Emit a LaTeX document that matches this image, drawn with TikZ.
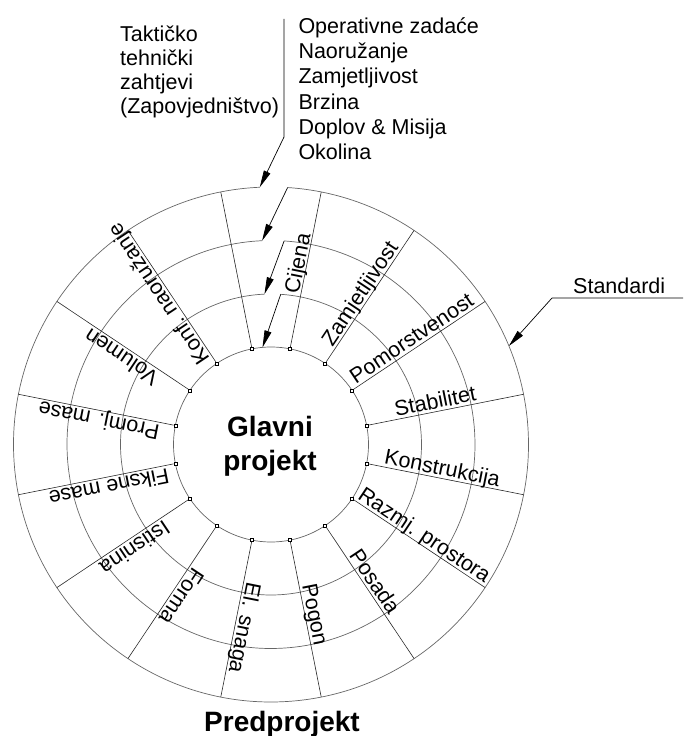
\documentclass[tikz,border=0pt]{standalone}
\usepackage{fontspec}
\setmainfont{Liberation Sans}
\usetikzlibrary{arrows.meta,calc}

\begin{document}
\begin{tikzpicture}
[x=1pt,y=1pt,>={Triangle[length=17pt,width=7pt]},
ring/.style={draw=black!60,line width=0.7pt},
spoke/.style={draw=black!85,line width=0.6pt},
pin/.style={rectangle,draw,fill=white,inner sep=0pt,minimum size=3pt,line width=0.5pt},
lbl/.style={font=\fontsize{21.5}{24}\selectfont,anchor=base west,inner sep=0pt},
txt/.style={font=\fontsize{21.5}{24}\selectfont,align=left,inner sep=0pt},
title/.style={font=\fontsize{28}{34}\selectfont\bfseries},
flow/.style={draw,line width=0.7pt,->}]
\useasboundingbox (-271,-291.5) rectangle (412,444.5);

% spiral rings, open at the top
\coordinate (o1) at (92.5:257.5);
\coordinate (o2) at (86.3:257.5);
\coordinate (m1) at (92.5:204);
\coordinate (m2) at (86.3:204);
\coordinate (n1) at (92.5:150.5);
\coordinate (n2) at (86.3:150.5);
\coordinate (c1) at (95:97.5);
\draw[ring] (o1) arc[start angle=92.5,end angle=446.3,radius=257.5];
\draw[ring] (m1) arc[start angle=92.5,end angle=446.3,radius=204];
\draw[ring] (n1) arc[start angle=92.5,end angle=446.3,radius=150.5];
\draw[ring] (0,0) circle[radius=97.5];

\foreach \a [count=\i] in {11.25,33.75,...,348.75}{
  \node[pin] (pin\i) at (\a:97.5) {};
  \draw[spoke] (pin\i) -- (\a:257.5);
}

% labels along the spokes
\node[lbl,rotate=78.75] (cijena) at ($(78.75:152)+(168.75:2)$) {Cijena};
\node[lbl,rotate=56.25] (zamjet) at ($(56.25:115)+(146.25:3)$) {Zamjetljivost};
\node[lbl,rotate=33.75] (pomor) at ($(33.75:104)+(123.75:3)$) {Pomorstvenost};
\node[lbl,rotate=11.25] (stab) at ($(11.25:128)+(101.25:3)$) {Stabilitet};
\node[lbl,rotate=-11.25] (konstr) at ($(-11.25:114)+(78.75:3)$) {Konstrukcija};
\node[lbl,rotate=-33.75] (razmj) at ($(-33.75:101)+(56.25:3)$) {Razmj. prostora};
\node[lbl,rotate=-56.25] (posada) at ($(-56.25:135)+(33.75:3)$) {Posada};
\node[lbl,rotate=-78.75] (pogon) at ($(-78.75:144)+(11.25:3)$) {Pogon};
\node[lbl,rotate=258.75] (elsnaga) at ($(258.75:139)+(348.75:3)$) {El. snaga};
\node[lbl,rotate=236.25] (forma) at ($(236.25:145)+(326.25:3)$) {Forma};
\node[lbl,rotate=213.75] (istis) at ($(213.75:131)+(303.75:3)$) {Istisnina};
\node[lbl,rotate=191.25] (fiksne) at ($(191.25:106)+(281.25:3)$) {Fiksne mase};
\node[lbl,rotate=168.75] (promj) at ($(168.75:112)+(258.75:3)$) {Promj. mase};
\node[lbl,rotate=146.25] (volumen) at ($(146.25:131)+(236.25:3)$) {Volumen};
\node[lbl,rotate=123.75] (konf) at ($(123.75:105)+(213.75:3)$) {Konf. naoružanje};

\node[title,align=center] (glavni) at (-1,-1.5) {Glavni\\projekt};
\node[title,anchor=base,inner sep=0pt] (pred) at (11,-286.5) {Predprojekt};

% requirements at the top
\node[txt,anchor=north west] (tak) at (-151,418.4)
  {Taktičko\\tehnički\\zahtjevi\\(Zapovjedništvo)};
\node[txt,font=\fontsize{21.5}{25.2}\selectfont,anchor=north west] (oper) at (27.3,427)
  {Operativne zadaće\\Naoružanje\\Zamjetljivost\\Brzina\\Doplov \& Misija\\Okolina};
\coordinate (tak0) at (13,425.5);
\coordinate (tak1) at (13,307.5);
\draw[flow] (tak0) -- (tak1) -- (o1);
\draw[flow] (o2) -- (m1);
\draw[flow] (m2) -- (n1);
\draw[flow] (n2) -- (c1);

\node[txt,anchor=base west] (std) at (302,151.2) {Standardi};
\coordinate (std0) at (412,146.5);
\coordinate (std1) at (281,146.5);
\coordinate (stdtip) at (22.5:257.5);
\draw[flow] (std0) -- (std1) -- (stdtip);
\end{tikzpicture}
\end{document}
